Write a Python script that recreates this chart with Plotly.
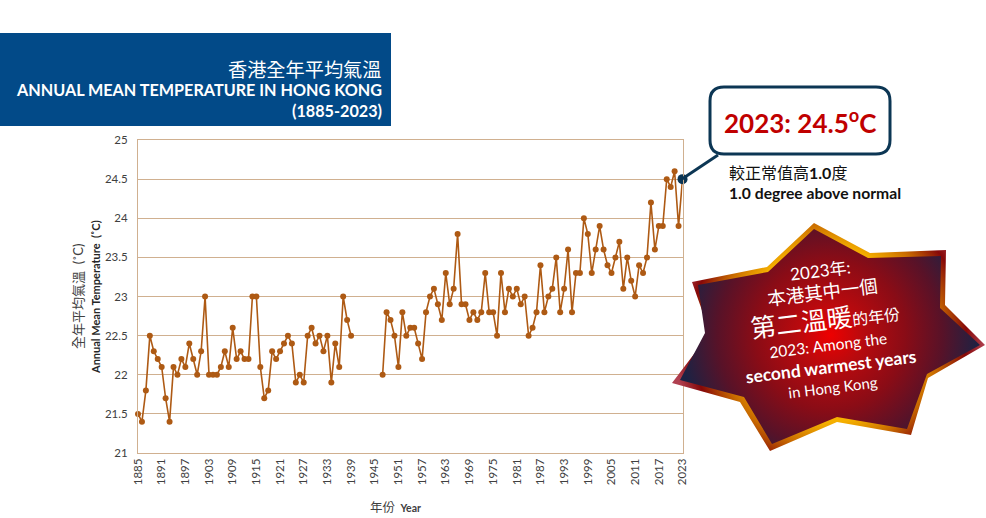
import plotly.graph_objects as go

years = list(range(1885, 2024))
temps = [21.5, 21.4, 21.8, 22.5, 22.3, 22.2, 22.1, 21.7, 21.4, 22.1,  # 1885-1894
         22.0, 22.2, 22.1, 22.4, 22.2, 22.0, 22.3, 23.0, 22.0, 22.0,  # 1895-1904
         22.0, 22.1, 22.3, 22.1, 22.6, 22.2, 22.3, 22.2, 22.2, 23.0,  # 1905-1914
         23.0, 22.1, 21.7, 21.8, 22.3, 22.2, 22.3, 22.4, 22.5, 22.4,  # 1915-1924
         21.9, 22.0, 21.9, 22.5, 22.6, 22.4, 22.5, 22.3, 22.5, 21.9,  # 1925-1934
         22.4, 22.1, 23.0, 22.7, 22.5, None, None, None, None, None,  # 1935-1944
         None, None, 22.0, 22.8, 22.7, 22.5, 22.1, 22.8, 22.5, 22.6,  # 1945-1954
         22.6, 22.4, 22.2, 22.8, 23.0, 23.1, 22.9, 22.7, 23.3, 22.9,  # 1955-1964
         23.1, 23.8, 22.9, 22.9, 22.7, 22.8, 22.7, 22.8, 23.3, 22.8,  # 1965-1974
         22.8, 22.5, 23.3, 22.8, 23.1, 23.0, 23.1, 22.9, 23.0, 22.5,  # 1975-1984
         22.6, 22.8, 23.4, 22.8, 23.0, 23.1, 23.5, 22.8, 23.1, 23.6,  # 1985-1994
         22.8, 23.3, 23.3, 24.0, 23.8, 23.3, 23.6, 23.9, 23.6, 23.4,  # 1995-2004
         23.3, 23.5, 23.7, 23.1, 23.5, 23.2, 23.0, 23.4, 23.3, 23.5,  # 2005-2014
         24.2, 23.6, 23.9, 23.9, 24.5, 24.4, 24.6, 23.9, 24.5]        # 2015-2023
x_ticks = list(range(1885, 2024, 6))
y_ticks = [21, 21.5, 22, 22.5, 23, 23.5, 24, 24.5, 25]
y_tick_labels = ['21', '21.5', '22', '22.5', '23', '23.5', '24', '24.5', '25']

W, H = 986, 518
PLOT_L, PLOT_R, PLOT_T, PLOT_B = 138, 682.5, 140, 453
LATIN = 'Lato, "Noto Sans CJK TC", sans-serif'
TAN = '#d0b090'
BROWN = '#ae5a14'
NAVY = '#0c3654'

star_outer = [(814, 223), (870, 253), (946, 250), (945, 305), (985, 345), (928, 378), (911, 435),
              (837, 422), (770, 451), (740, 402), (672, 383), (710, 333), (692, 282), (767, 267)]
star_inner = [(814, 229), (868, 258), (941, 256), (940, 308), (980, 345), (927, 374), (907, 429),
              (837, 417), (772, 444), (744, 397), (680, 380), (705, 333), (698, 285), (768, 272)]


def star_trace(points, colorscale):
    # zero-area spikes make the bounding box square so the radial fill stays circular
    xs = [p[0] for p in points]
    ys = [p[1] for p in points]
    r = (max(xs) - min(xs)) / 2
    cy = 335
    xs = [xs[0], xs[0]] + xs + [xs[0]]
    ys = [cy - r, ys[0]] + ys + [ys[0]]
    xs = xs[:10] + [xs[9], xs[9]] + xs[9:]
    ys = ys[:10] + [cy + r, ys[9]] + ys[9:]
    return go.Scatter(x=xs, y=ys, mode='lines', fill='toself', xaxis='x2', yaxis='y2',
                      line=dict(width=0, simplify=False), hoverinfo='skip', showlegend=False,
                      fillgradient=dict(type='radial', colorscale=colorscale))


fig = go.Figure()
fig.add_trace(go.Scatter(x=years, y=temps, mode='lines+markers', showlegend=False, cliponaxis=False,
                         line=dict(color=BROWN, width=1.6),
                         marker=dict(color=BROWN, size=6)))
fig.add_trace(star_trace(star_outer, [[0, '#ffc000'], [0.56, '#f5b000'], [0.72, '#c86a00'],
                                      [0.88, '#860808'], [1, '#b04050']]))
fig.add_trace(star_trace(star_inner, [[0, '#ee0000'], [0.22, '#b80a0e'], [0.5, '#8a0c16'],
                                      [0.75, '#581228'], [1, '#1c2244']]))
# 2023 point and its leader
fig.add_trace(go.Scatter(x=[years[-1]], y=[temps[-1]], mode='markers', showlegend=False, cliponaxis=False,
                         marker=dict(color=NAVY, size=10)))

fig.update_layout(
    width=W, height=H, margin=dict(l=0, r=0, t=0, b=0), paper_bgcolor='white',
    plot_bgcolor='rgba(0,0,0,0)', font=dict(family=LATIN, color='#404040'),
    xaxis=dict(domain=[PLOT_L / W, PLOT_R / W], range=[1885, 2023], tickmode='array', tickvals=x_ticks,
               tickangle=-90, tickfont=dict(size=11.5, color='#404040'), showgrid=False, zeroline=False,
               showline=True, mirror=True, linecolor=TAN, linewidth=1, ticks='', automargin=False),
    yaxis=dict(domain=[1 - PLOT_B / H, 1 - PLOT_T / H], range=[21, 25], tickmode='array', tickvals=y_ticks,
               ticktext=y_tick_labels, tickfont=dict(size=11.5, color='#404040'), gridcolor=TAN, gridwidth=1,
               ticklabelstandoff=7, zeroline=False, showline=True, mirror=True, linecolor=TAN, linewidth=1,
               ticks='', automargin=False),
    xaxis2=dict(domain=[0, 1], range=[0, W], visible=False, anchor='y2', automargin=False),
    yaxis2=dict(domain=[0, 1], range=[H, 0], visible=False, anchor='x2', automargin=False),
)

page = dict(xref='x2', yref='y2')
fig.add_shape(type='rect', x0=0, x1=391, y0=33, y1=126, fillcolor='#024a88', line_width=0, layer='above', **page)
fig.add_shape(type='line', x0=682, y0=179, x1=718, y1=155, line=dict(color=NAVY, width=3), layer='above', **page)
fig.add_shape(type='path', line=dict(color=NAVY, width=3), fillcolor='white', layer='above', **page,
              path='M 724 87 L 876 87 Q 890 87 890 101 L 890 140 Q 890 154 876 154 '
                   'L 724 154 Q 710 154 710 140 L 710 101 Q 710 87 724 87 Z')


def note(x, y, text, size, color='#000000', angle=0, anchor='center', family=LATIN):
    fig.add_annotation(x=x, y=y, text=text, showarrow=False, xanchor=anchor, yanchor='middle', textangle=angle,
                       font=dict(size=size, color=color, family=family), **page)


note(384, 69, '香港全年平均氣溫', 19.2, 'white', anchor='right')
note(384, 89, '<b>ANNUAL MEAN TEMPERATURE IN HONG KONG</b>', 16.2, 'white', anchor='right')
note(384, 110, '<b>(1885-2023)</b>', 16.2, 'white', anchor='right')

note(800, 121, '<b>2023: 24.5<sup>o</sup>C</b>', 26, '#c00000')
note(727, 172, '較正常值高<b>1.0</b>度', 16, '#111111', anchor='left')
note(727, 193, '<b>1.0 degree above normal</b>', 15.7, '#111111', anchor='left')

note(78, 297, '全年平均氣溫  (˚C)', 13, '#404040', angle=-90)
note(95, 297, '<b>Annual Mean Temperature  (˚C)</b>', 11, '#262626', angle=-90)
note(395, 507, '<span style="font-size:12.5px">年份</span>  <b>Year</b>', 10.5, '#404040')

note(820, 270, '2023年:', 17, 'white', angle=-7)
note(822, 292, '本港其中一個', 18.5, 'white', angle=-7)
note(825, 319, '<span style="font-size:25.5px">第二溫暖</span>的年份', 16, 'white', angle=-7)
note(828, 345, '2023: Among the', 15.5, 'white', angle=-7)
note(831, 366, '<b>second warmest years</b>', 17.5, 'white', angle=-7)
note(833, 387, 'in Hong Kong', 15, 'white', angle=-7)

fig.write_html("out.html", config={'displayModeBar': False}, post_script="document.body.style.margin='0';")
